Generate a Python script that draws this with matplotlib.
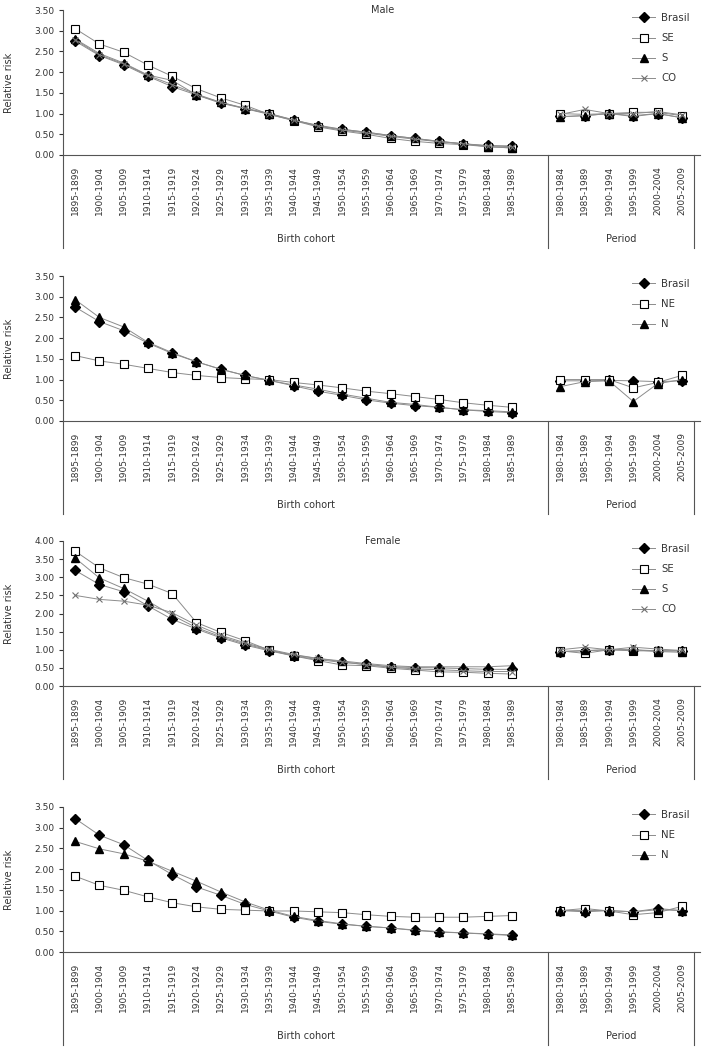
import matplotlib
matplotlib.use('Agg')
from matplotlib import pyplot as plt  # noqa
from matplotlib import transforms

COHORTS = ['1895-1899', '1900-1904', '1905-1909', '1910-1914', '1915-1919',
           '1920-1924', '1925-1929', '1930-1934', '1935-1939', '1940-1944',
           '1945-1949', '1950-1954', '1955-1959', '1960-1964', '1965-1969',
           '1970-1974', '1975-1979', '1980-1984', '1985-1989']
PERIODS = ['1980-1984', '1985-1989', '1990-1994', '1995-1999', '2000-2004',
           '2005-2009']

# male, SE / S / CO
male_brasil_c = [2.75, 2.40, 2.18, 1.90, 1.65, 1.45, 1.25, 1.12, 1.00, 0.85,
                 0.70, 0.62, 0.55, 0.47, 0.40, 0.33, 0.27, 0.23, 0.22]
male_se_c = [3.05, 2.68, 2.48, 2.17, 1.90, 1.60, 1.38, 1.20, 0.98, 0.83,
             0.68, 0.58, 0.50, 0.40, 0.33, 0.28, 0.25, 0.20, 0.17]
male_s_c = [2.80, 2.45, 2.22, 1.93, 1.80, 1.45, 1.27, 1.12, 0.98, 0.84,
            0.72, 0.62, 0.55, 0.47, 0.40, 0.33, 0.27, 0.20, 0.17]
male_co_c = [2.78, 2.42, 2.20, 1.92, 1.70, 1.47, 1.27, 1.13, 1.00, 0.84,
             0.70, 0.60, 0.53, 0.45, 0.38, 0.32, 0.27, 0.22, 0.20]
male_brasil_p = [0.93, 0.95, 1.00, 0.95, 1.00, 0.90]
male_se_p = [1.00, 0.98, 1.00, 1.03, 1.03, 0.95]
male_s_p = [0.92, 0.95, 1.00, 0.93, 1.00, 0.90]
male_co_p = [0.98, 1.10, 1.00, 1.00, 1.05, 0.97]

# male, NE / N
male2_brasil_c = [2.75, 2.40, 2.18, 1.88, 1.63, 1.43, 1.25, 1.10, 0.98, 0.85,
                  0.72, 0.62, 0.51, 0.43, 0.37, 0.33, 0.27, 0.23, 0.20]
male_ne_c = [1.58, 1.45, 1.37, 1.27, 1.17, 1.10, 1.05, 1.02, 1.00, 0.93,
             0.87, 0.80, 0.72, 0.66, 0.59, 0.52, 0.44, 0.38, 0.33]
male_n_c = [2.93, 2.50, 2.27, 1.90, 1.65, 1.43, 1.25, 1.10, 0.98, 0.87,
            0.77, 0.65, 0.55, 0.45, 0.40, 0.33, 0.27, 0.25, 0.22]
male2_brasil_p = [0.97, 0.97, 0.98, 0.97, 0.95, 0.97]
male_ne_p = [1.00, 1.00, 1.00, 0.80, 0.93, 1.10]
male_n_p = [0.83, 0.95, 0.97, 0.47, 0.90, 1.00]

# female, SE / S / CO
fem_brasil_c = [3.19, 2.80, 2.60, 2.21, 1.84, 1.57, 1.33, 1.13, 0.97, 0.83,
                0.73, 0.65, 0.60, 0.53, 0.51, 0.50, 0.48, 0.46, 0.46]
fem_se_c = [3.72, 3.26, 2.99, 2.81, 2.55, 1.75, 1.48, 1.25, 0.99, 0.83,
            0.70, 0.58, 0.56, 0.49, 0.44, 0.39, 0.38, 0.35, 0.33]
fem_s_c = [3.53, 2.98, 2.69, 2.34, 1.95, 1.61, 1.36, 1.16, 0.99, 0.85,
           0.76, 0.69, 0.62, 0.56, 0.53, 0.53, 0.53, 0.53, 0.56]
fem_co_c = [2.50, 2.39, 2.34, 2.23, 2.02, 1.68, 1.40, 1.19, 1.01, 0.87,
            0.76, 0.67, 0.58, 0.52, 0.47, 0.45, 0.42, 0.40, 0.40]
fem_brasil_p = [0.95, 0.97, 1.00, 1.00, 0.97, 0.97]
fem_se_p = [0.97, 0.90, 1.00, 0.97, 0.97, 0.97]
fem_s_p = [0.95, 0.98, 1.00, 1.00, 0.95, 0.93]
fem_co_p = [1.00, 1.07, 1.00, 1.07, 1.02, 0.98]

# female, NE / N
fem2_brasil_c = [3.22, 2.82, 2.59, 2.21, 1.87, 1.57, 1.37, 1.15, 0.99, 0.84,
                 0.74, 0.67, 0.62, 0.58, 0.52, 0.48, 0.46, 0.43, 0.40]
fem_ne_c = [1.83, 1.61, 1.49, 1.33, 1.19, 1.09, 1.03, 1.01, 0.99, 0.99,
            0.97, 0.95, 0.90, 0.86, 0.84, 0.84, 0.84, 0.86, 0.88]
fem_n_c = [2.67, 2.49, 2.37, 2.19, 1.95, 1.71, 1.45, 1.21, 1.01, 0.86,
           0.76, 0.68, 0.62, 0.58, 0.53, 0.49, 0.46, 0.44, 0.41]
fem2_brasil_p = [1.00, 0.97, 1.00, 0.97, 1.05, 1.00]
fem_ne_p = [1.00, 1.05, 0.99, 0.90, 0.95, 1.10]
fem_n_p = [1.00, 1.00, 1.00, 0.97, 1.02, 1.00]

FS = 6.5
LINE = '#8c8c8c'
TEXT = '#333333'
W, H = 704, 1049

STYLES = {
    'Brasil': dict(marker='D', ms=5.2, mfc='black', mec='black'),
    'SE': dict(marker='s', ms=5.8, mfc='white', mec='black', mew=0.8),
    'NE': dict(marker='s', ms=5.8, mfc='white', mec='black', mew=0.8),
    'S': dict(marker='^', ms=5.5, mfc='black', mec='black'),
    'N': dict(marker='^', ms=5.5, mfc='black', mec='black'),
    'CO': dict(marker='x', ms=4.5, mfc='none', mec='#707070', mew=0.8),
}


def px_axes(fig, left, top, right, bottom):
    return fig.add_axes([left / W, 1 - bottom / H, (right - left) / W,
                         (bottom - top) / H])


def draw_panel(fig, top, bottom, ymax, series, title=None):
    ax = px_axes(fig, 63, top, 700, bottom)
    cx = list(range(len(COHORTS)))
    px = [len(COHORTS) + 1 + i for i in range(len(PERIODS))]
    handles = []
    for name, cvals, pvals in series:
        st = STYLES[name]
        h, = ax.plot(cx, cvals, color=LINE, lw=0.7, label=name, **st)
        ax.plot(px, pvals, color=LINE, lw=0.7, **st)
        handles.append(h)
    ax.set_xlim(-0.5, 25.75)
    ax.set_ylim(0, ymax)
    ax.set_yticks([v * 0.5 for v in range(int(ymax / 0.5) + 1)])
    ax.set_yticklabels(['{:.2f}'.format(v * 0.5)
                        for v in range(int(ymax / 0.5) + 1)])
    ax.set_xticks(cx + px)
    ax.set_xticklabels(COHORTS + PERIODS, rotation=90)
    ax.tick_params(axis='x', length=0, pad=8, labelsize=FS, colors=TEXT)
    ax.tick_params(axis='y', length=3, width=0.8, direction='out',
                   labelsize=FS, colors=TEXT, pad=3)
    for s in ['top', 'right']:
        ax.spines[s].set_visible(False)
    ax.spines['left'].set_color('#555555')
    ax.spines['bottom'].set_color('#555555')
    ax.spines['left'].set_linewidth(0.8)
    ax.spines['bottom'].set_linewidth(0.8)

    # group separators below the category axis
    depth = 93.0 / (bottom - top)
    tr = transforms.blended_transform_factory(ax.transData, ax.transAxes)
    for xv in [-0.5, 19.5, 25.5]:
        ax.plot([xv, xv], [0, -depth], transform=tr, color='#555555',
                lw=0.8, clip_on=False)
    lab_y = -84.0 / (bottom - top)
    ax.text(9.5, lab_y, 'Birth cohort', transform=tr, ha='center',
            va='center', fontsize=FS + 0.5, color=TEXT)
    ax.text(22.5, lab_y, 'Period', transform=tr, ha='center',
            va='center', fontsize=FS + 0.5, color=TEXT)
    fig.text(9 / W, 1 - (top + bottom) / 2 / H, 'Relative risk',
             rotation=90, ha='center', va='center', fontsize=FS + 0.5,
             color=TEXT)

    if title:
        fig.text(383 / W, 1 - (top + 0) / H, title, ha='center',
                 va='center', fontsize=FS + 0.5, color=TEXT)

    ax.legend(handles=handles, loc='upper left', frameon=False,
              bbox_to_anchor=(632 / W, 1 - (top + 3) / H),
              bbox_transform=fig.transFigure, fontsize=FS + 0.8,
              handlelength=2.3, handletextpad=0.6, labelspacing=1.0,
              borderaxespad=0, borderpad=0, labelcolor=TEXT)
    return ax


fig = plt.figure(figsize=(W / 100, H / 100), dpi=100)

draw_panel(fig, 10, 155, 3.5,
           [('Brasil', male_brasil_c, male_brasil_p),
            ('SE', male_se_c, male_se_p),
            ('S', male_s_c, male_s_p),
            ('CO', male_co_c, male_co_p)], title='Male')
draw_panel(fig, 276, 421, 3.5,
           [('Brasil', male2_brasil_c, male2_brasil_p),
            ('NE', male_ne_c, male_ne_p),
            ('N', male_n_c, male_n_p)])
draw_panel(fig, 541, 686, 4.0,
           [('Brasil', fem_brasil_c, fem_brasil_p),
            ('SE', fem_se_c, fem_se_p),
            ('S', fem_s_c, fem_s_p),
            ('CO', fem_co_c, fem_co_p)], title='Female')
draw_panel(fig, 807, 952, 3.5,
           [('Brasil', fem2_brasil_c, fem2_brasil_p),
            ('NE', fem_ne_c, fem_ne_p),
            ('N', fem_n_c, fem_n_p)])

fig.savefig('out.png', dpi=100)
